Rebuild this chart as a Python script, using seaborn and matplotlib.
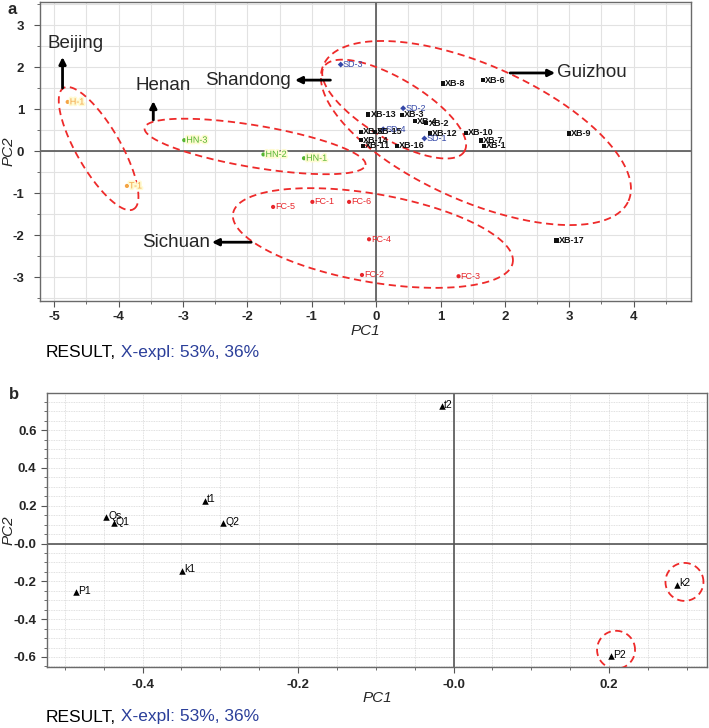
import matplotlib
matplotlib.use('Agg')
import matplotlib.pyplot as plt
import matplotlib.patheffects as pe
from matplotlib.ticker import MultipleLocator
import numpy as np
import pandas as pd
import seaborn as sns

sns.set_style('white')
plt.rcParams['font.family'] = ['Liberation Sans', 'DejaVu Sans']

# ---- panel a: sample scores ----
sample_names = ['H-1', 'T-1',
                'HN-1', 'HN-2', 'HN-3',
                'FC-1', 'FC-2', 'FC-3', 'FC-4', 'FC-5', 'FC-6',
                'SD-1', 'SD-2', 'SD-3', 'SD-4',
                'XB-1', 'XB-2', 'XB-3', 'XB-4', 'XB-5', 'XB-6', 'XB-7', 'XB-8', 'XB-9',
                'XB-10', 'XB-11', 'XB-12', 'XB-13', 'XB-14', 'XB-15', 'XB-16', 'XB-17']
sample_pc1 = [-4.79, -3.87,
              -1.12, -1.75, -2.98,
              -0.99, -0.22, 1.28, -0.11, -1.60, -0.42,
              0.75, 0.42, -0.55, 0.11,
              1.67, 0.78, 0.40, 0.60, -0.23, 1.66, 1.63, 1.04, 2.99,
              1.39, -0.20, 0.84, -0.12, -0.23, -0.02, 0.32, 2.80]
sample_pc2 = [1.17, -0.83,
              -0.17, -0.08, 0.26,
              -1.21, -2.95, -2.98, -2.10, -1.33, -1.21,
              0.30, 1.02, 2.06, 0.52,
              0.13, 0.66, 0.86, 0.71, 0.46, 1.69, 0.25, 1.61, 0.42,
              0.44, 0.13, 0.42, 0.87, 0.26, 0.46, 0.13, -2.13]
sample_region = ['Beijing'] * 2 + ['Henan'] * 3 + ['Sichuan'] * 6 + ['Shandong'] * 4 + ['Guizhou'] * 17

region_colors = {'Beijing': '#f4a445', 'Henan': '#55b531', 'Sichuan': '#e8262b',
                 'Shandong': '#3548a8', 'Guizhou': '#111111'}
region_markers = {'Beijing': 'o', 'Henan': 'o', 'Sichuan': 'o', 'Shandong': 'D', 'Guizhou': 's'}

# region callouts: text, arrow tail, arrow head, text position
callout_text = ['Beijing', 'Henan', 'Shandong', 'Guizhou', 'Sichuan']
callout_tail = [(-4.87, 1.50), (-3.46, 0.74), (-0.71, 1.69), (2.08, 1.86), (-1.94, -2.17)]
callout_head = [(-4.87, 2.24), (-3.46, 1.19), (-1.26, 1.69), (2.78, 1.86), (-2.55, -2.17)]
callout_pos = [(-4.67, 2.55), (-3.31, 1.55), (-1.99, 1.69), (3.35, 1.86), (-3.10, -2.17)]

# dashed group ellipses: centre (data), semi-axes (px), angle (deg on screen)
ell_center = [(-4.31, 0.06), (-1.88, 0.11), (-0.05, -2.07), (0.28, 1.00), (1.55, 0.43)]
ell_axes = [(70, 22), (112, 21), (142, 44), (82, 30), (167, 68)]
ell_angle = [-60, -9.5, -10, -31, -24]

# ---- panel b: loadings ----
var_names = ['t2', 't1', 'Qs', 'Q1', 'Q2', 'k1', 'P1', 'k2', 'P2']
var_pc1 = [-0.015, -0.320, -0.447, -0.437, -0.296, -0.349, -0.486, 0.288, 0.203]
var_pc2 = [0.726, 0.226, 0.138, 0.107, 0.107, -0.143, -0.256, -0.218, -0.595]
circle_center = [(0.297, -0.203), (0.209, -0.562)]

red = '#ee2a2a'


def dashed_ellipse(ax, cx, cy, a, b, angle):
    # a, b in screen pixels, converted to data units through the axis scale
    bb = ax.get_window_extent()
    x0, x1 = ax.get_xlim()
    y0, y1 = ax.get_ylim()
    sx = bb.width / (x1 - x0)
    sy = bb.height / (y1 - y0)
    t = np.linspace(0, 2 * np.pi, 300)
    th = np.radians(angle)
    u = a * np.cos(t) * np.cos(th) - b * np.sin(t) * np.sin(th)
    v = a * np.cos(t) * np.sin(th) + b * np.sin(t) * np.cos(th)
    ax.plot(cx + u / sx, cy + v / sy, ls=(0, (4, 2.5)), color=red, lw=1.3, zorder=4)


def style_axes(ax, xt, xl, yt, yl, minor, grid_kw, ypad, xpad):
    ax.set_xticks(xt)
    ax.set_xticklabels(xl, fontweight='bold', fontsize=9.5)
    ax.set_yticks(yt)
    ax.set_yticklabels(yl, fontweight='bold', fontsize=9.5)
    ax.xaxis.set_minor_locator(MultipleLocator(minor[0]))
    ax.yaxis.set_minor_locator(MultipleLocator(minor[1]))
    ax.grid(which='both', **grid_kw)
    ax.set_axisbelow(True)
    ax.tick_params(which='major', direction='out', length=4, width=0.8, color='#555555',
                   bottom=True, left=True)
    ax.tick_params(which='minor', direction='out', length=2.5, width=0.6, color='#555555',
                   bottom=True, left=True)
    ax.tick_params(axis='y', which='major', pad=ypad)
    ax.tick_params(axis='x', which='major', pad=xpad)
    for s in ax.spines.values():
        s.set_color('#6a6a6a')
        s.set_linewidth(1.0)
    ax.axhline(0, color='#555555', lw=1.2, zorder=1)
    ax.axvline(0, color='#555555', lw=1.2, zorder=1)


def result_caption(fig, x, y):
    t = fig.text(x, y, 'RESULT,', fontsize=12.5, va='center', color='black')
    fig.canvas.draw()
    t2 = plt.annotate(' X-expl: 53%, 36%', xy=(1, 0), xycoords=t, va='bottom', ha='left',
                      fontsize=12.5, color='#2b3f9a', annotation_clip=False)
    return t2


fig = plt.figure(figsize=(7.09, 7.28), dpi=100)
W, H = 709, 728

# ---------------- panel a ----------------
ax = fig.add_axes([40 / W, 1 - 301 / H, 651 / W, 299 / H])
ax.set_xlim(-5.22, 4.89)
ax.set_ylim(-3.57, 3.55)
style_axes(ax, list(range(-5, 5)), [str(v) for v in range(-5, 5)],
           list(range(-3, 4)), [str(v) for v in range(-3, 4)],
           (0.5, 0.5), dict(color='#e2e2e2', lw=0.8), ypad=7.5, xpad=3)

df_a = pd.DataFrame({'PC1': sample_pc1, 'PC2': sample_pc2,
                     'name': sample_names, 'region': sample_region})
sns.scatterplot(data=df_a, x='PC1', y='PC2', hue='region', style='region',
                palette=region_colors, markers=region_markers, s=9, linewidth=0,
                legend=False, ax=ax, zorder=5)
halo = [pe.withStroke(linewidth=2.5, foreground='#fffbd2')]
for _, r in df_a.iterrows():
    kw = {}
    if r['region'] in ('Beijing', 'Henan'):
        kw['path_effects'] = halo
    ax.annotate(r['name'], (r['PC1'], r['PC2']), xytext=(1.5, 0), textcoords='offset points',
                va='center', ha='left', fontsize=6.5, color=region_colors[r['region']],
                fontweight='bold' if r['region'] == 'Guizhou' else 'normal', zorder=6, **kw)

for (cx, cy), (a, b), ang in zip(ell_center, ell_axes, ell_angle):
    dashed_ellipse(ax, cx, cy, a, b, ang)

for txt, tail, head, pos in zip(callout_text, callout_tail, callout_head, callout_pos):
    ax.annotate('', xy=head, xytext=tail,
                arrowprops=dict(arrowstyle='-|>', color='black', lw=2, mutation_scale=10,
                                shrinkA=0, shrinkB=0), zorder=7)
    ax.text(pos[0], pos[1], txt, fontsize=13.5, ha='center', va='center', zorder=7)

ax.set_xlabel('PC1', fontsize=11, style='italic', labelpad=1)
ax.set_ylabel('PC2', fontsize=11, style='italic')
ax.yaxis.set_label_coords((15.5 - 40) / 651, 0.5)
fig.text(8 / W, 1 - 10 / H, 'a', fontsize=12, fontweight='bold', va='center')
result_caption(fig, 46 / W, 1 - 352 / H)

# ---------------- panel b ----------------
bx = fig.add_axes([47 / W, 1 - 667 / H, 660 / W, 274 / H])
bx.set_xlim(-0.523, 0.326)
bx.set_ylim(-0.653, 0.796)
style_axes(bx, [-0.4, -0.2, 0.0, 0.2], ['-0.4', '-0.2', '-0.0', '0.2'],
           [-0.6, -0.4, -0.2, 0.0, 0.2, 0.4, 0.6],
           ['-0.6', '-0.4', '-0.2', '-0.0', '0.2', '0.4', '0.6'],
           (0.05, 0.05), dict(color='#d6d6d6', lw=0.6, ls=(0, (1, 1))), ypad=3.5, xpad=5)

df_b = pd.DataFrame({'PC1': var_pc1, 'PC2': var_pc2, 'name': var_names})
sns.scatterplot(data=df_b, x='PC1', y='PC2', marker='^', color='black', s=22,
                linewidth=0, legend=False, ax=bx, zorder=5)
for _, r in df_b.iterrows():
    bx.annotate(r['name'], (r['PC1'], r['PC2']), xytext=(1.5, 1), textcoords='offset points',
                va='center', ha='left', fontsize=7.5, color='black', zorder=6)

for cx, cy in circle_center:
    dashed_ellipse(bx, cx, cy, 19, 19, 0)

bx.set_xlabel('PC1', fontsize=11, style='italic', labelpad=0)
bx.set_ylabel('PC2', fontsize=11, style='italic')
bx.yaxis.set_label_coords((15.5 - 47) / 660, 0.5)
fig.text(9 / W, 1 - 395 / H, 'b', fontsize=12, fontweight='bold', va='center')
result_caption(fig, 46 / W, 1 - 717 / H)

fig.savefig('out.png', dpi=100)
